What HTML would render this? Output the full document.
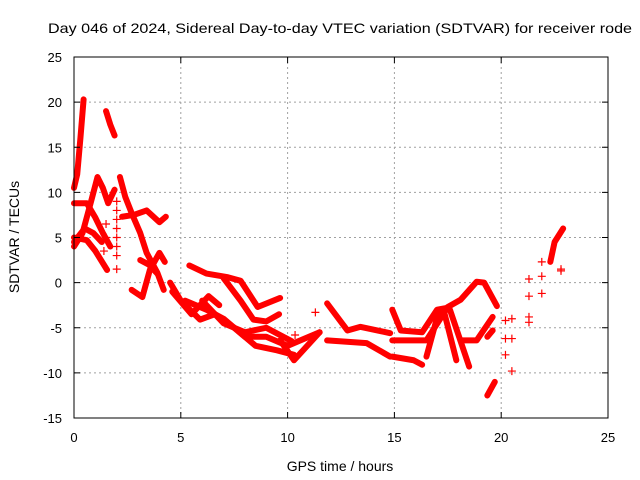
<!DOCTYPE html>
<html><head><meta charset="utf-8"><style>
body{margin:0;background:#fff}
svg{display:block;font-family:"Liberation Sans",sans-serif}
</style></head><body>
<svg id="chart" width="640" height="480" xmlns="http://www.w3.org/2000/svg">
<rect width="640" height="480" fill="#fff"/>
<text x="340" y="33" font-size="14" text-anchor="middle" textLength="584" lengthAdjust="spacingAndGlyphs">Day 046 of 2024, Sidereal Day-to-day VTEC variation (SDTVAR) for receiver rode</text>
<text x="340" y="471" font-size="14" text-anchor="middle">GPS time / hours</text>
<text transform="translate(19,237) rotate(-90)" font-size="14" text-anchor="middle">SDTVAR / TECUs</text>
<g id="grid"></g>
<g id="marks"></g>
<rect x="74" y="57" width="534" height="361" fill="none" stroke="#000" stroke-width="1"/>
<g id="ticks"></g>
</svg>
<script>
const xTicks=[0,5,10,15,20,25];
const yTicks=[-15,-10,-5,0,5,10,15,20,25];
const tracks=[
[[0,10.5],[0.15,12],[0.3,16],[0.45,20.3]],
[[1.5,19],[1.7,17.5],[1.9,16.3]],
[[0,4],[0.4,5.5],[0.8,9],[1.1,11.7],[1.35,10.5],[1.6,8.8],[1.9,10.3]],
[[2.15,11.7],[2.4,9.5],[2.7,7.7],[3.1,5.5],[3.4,3.3],[3.9,1.1],[4.2,-0.8]],
[[0,8.8],[0.6,8.8],[1.0,7.2],[1.35,5.5],[1.7,4]],
[[0,5],[0.6,4.7],[1.0,3.5],[1.55,1.4]],
[[0,4.5],[0.5,6],[0.9,5.5],[1.3,4.5]],
[[2.25,7.3],[2.8,7.5],[3.4,8],[4,6.7],[4.3,7.3]],
[[2.7,-0.8],[3.2,-1.6],[3.55,1.4],[4.0,3.3],[4.25,2.3]],
[[3.1,2.5],[3.5,2],[3.9,1]],
[[4.5,0],[5.0,-2],[5.9,-4.1],[6.6,-3.5],[7.5,-5],[8.5,-7],[9.5,-7.5],[10.3,-8]],
[[5.4,1.9],[6.2,1.0],[7.2,0.6],[7.8,0.2],[8.6,-2.7],[9.65,-1.7]],
[[7.0,0.5],[7.8,-2],[8.4,-4.1],[9.0,-4.3],[9.6,-3.5]],
[[5.2,-2],[6.2,-3],[7,-4],[8,-6],[9,-6],[10,-7],[11,-6],[11.5,-5.5]],
[[6,-2],[7,-4.5],[8,-5.5],[9,-5],[10.2,-6.5]],
[[4.6,-1],[5.5,-3.5],[6.3,-1.5],[6.8,-2.5]],
[[9.65,-6.4],[10.3,-8.6],[11.5,-5.5]],
[[11.85,-2.3],[12.8,-5.3],[13.4,-4.9],[14.8,-5.6]],
[[11.85,-6.4],[13.7,-6.7],[14.8,-8.2]],
[[14.9,-3.0],[15.3,-5.3],[16.3,-5.5],[17,-3],[17.45,-2.8]],
[[14.9,-8.2],[15.9,-8.6],[16.3,-9.1]],
[[14.9,-6.4],[16.5,-6.4],[17.5,-2.7],[18.1,-1.9],[18.85,0.1],[19.2,0],[19.8,-2.6]],
[[16.5,-8.2],[17.1,-3]],
[[17.3,-3],[17.9,-8.6]],
[[17.6,-3],[18.5,-9.3]],
[[18.1,-6.4],[18.85,-6.4],[19.6,-3.8]],
[[19.35,-6],[19.6,-5.3]],
[[19.35,-12.5],[19.7,-11]],
[[22.3,2.3],[22.5,4.5],[22.9,6]]
];
const pointsX=[2.0,2.0,2.0,2.0,2.0,2.0,2.0,2.0,1.5,1.5,1.4,11.3,10.35,20.2,20.5,20.2,20.5,20.2,20.5,21.3,21.3,21.3,21.3,21.9,21.9,21.9,22.8,22.8];
const pointsY=[9,8,7,6,5,4,3,1.5,6.5,5,3.5,-3.3,-5.8,-4.2,-4.0,-6.2,-6.2,-8.0,-9.8,0.4,-1.5,-3.8,-4.4,-1.2,0.7,2.3,1.5,1.3];
const X0=74,X1=608,Y0=418,Y1=57;
const sx=v=>X0+(v-0)/25*(X1-X0);
const sy=v=>Y0-(v+15)/40*(Y0-Y1);
const NS='http://www.w3.org/2000/svg';
const grid=document.getElementById('grid'),ticks=document.getElementById('ticks'),marks=document.getElementById('marks');
function mk(tag,attrs,parent){const e=document.createElementNS(NS,tag);for(const k in attrs)e.setAttribute(k,attrs[k]);parent.appendChild(e);return e;}
xTicks.forEach(t=>{const x=sx(t);
 if(t>0&&t<25){const g=mk('line',{x1:x,x2:x,y1:Y1,y2:Y0,stroke:'#a0a0a0','stroke-dasharray':'2,3'},grid);
 
 }
 const a=mk('path',{d:`M${x},${Y0}v-6M${x},${Y1}v6`,stroke:'#000'},ticks);
 
 
 const l=mk('text',{x:x,y:Y0+24,'font-size':13,'text-anchor':'middle'},ticks);l.textContent=t;
 
 
});
yTicks.forEach(t=>{const y=sy(t);
 if(t>-15&&t<25){const g=mk('line',{x1:X0,x2:X1,y1:y,y2:y,stroke:'#a0a0a0','stroke-dasharray':'2,3'},grid);
 
 }
 const a=mk('path',{d:`M${X0},${y}h6M${X1},${y}h-6`,stroke:'#000'},ticks);
 
 
 const l=mk('text',{x:X0-12,y:y+5,'font-size':13,'text-anchor':'end'},ticks);l.textContent=t;
 
 
});
tracks.forEach(tr=>{const p=mk('polyline',{points:tr.map(d=>sx(d[0])+','+sy(d[1])).join(' '),fill:'none',stroke:'#ff0000','stroke-width':6,'stroke-linejoin':'round','stroke-linecap':'round'},marks);
 
 
});
pointsX.forEach((v,i)=>{const x=sx(v),y=sy(pointsY[i]);
 const p=mk('path',{d:`M${x-4},${y}h8M${x},${y-4}v8`,stroke:'#ff0000','stroke-width':1.2},marks);
 
 
});
</script>
</body></html>
